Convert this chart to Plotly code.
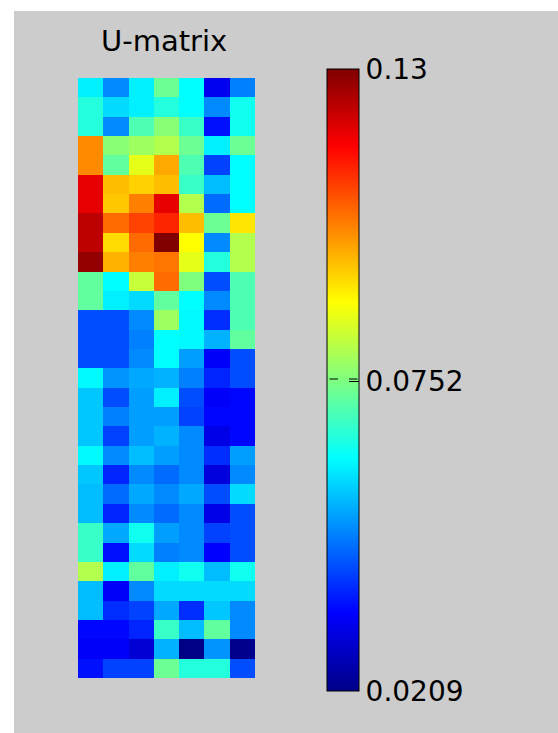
import plotly.graph_objects as go

# U-matrix distances, rows listed top to bottom, 7 columns each
rows = [
    [0.0602, 0.0493, 0.0602, 0.0733, 0.0618, 0.0329, 0.0482],
    [0.0656, 0.0580, 0.0602, 0.0656, 0.0618, 0.0493, 0.0634],
    [0.0656, 0.0493, 0.0700, 0.0765, 0.0678, 0.0362, 0.0634],
    [0.1016, 0.0765, 0.0787, 0.0809, 0.0733, 0.0602, 0.0733],
    [0.1016, 0.0722, 0.0864, 0.0984, 0.0700, 0.0416, 0.0618],
    [0.1191, 0.0962, 0.0940, 0.0962, 0.0678, 0.0547, 0.0618],
    [0.1191, 0.0951, 0.1027, 0.1191, 0.0809, 0.0460, 0.0618],
    [0.1235, 0.1049, 0.1093, 0.1125, 0.0962, 0.0733, 0.0918],
    [0.1235, 0.0929, 0.1049, 0.1300, 0.0891, 0.0493, 0.0809],
    [0.1278, 0.0973, 0.1027, 0.1038, 0.0864, 0.0656, 0.0809],
    [0.0722, 0.0618, 0.0831, 0.1049, 0.0755, 0.0427, 0.0700],
    [0.0722, 0.0602, 0.0580, 0.0722, 0.0618, 0.0493, 0.0700],
    [0.0427, 0.0427, 0.0493, 0.0787, 0.0613, 0.0394, 0.0700],
    [0.0427, 0.0427, 0.0482, 0.0618, 0.0613, 0.0536, 0.0722],
    [0.0427, 0.0427, 0.0493, 0.0618, 0.0514, 0.0340, 0.0427],
    [0.0613, 0.0504, 0.0525, 0.0536, 0.0482, 0.0384, 0.0427],
    [0.0558, 0.0427, 0.0514, 0.0602, 0.0427, 0.0340, 0.0351],
    [0.0558, 0.0482, 0.0514, 0.0514, 0.0416, 0.0351, 0.0351],
    [0.0558, 0.0416, 0.0514, 0.0536, 0.0493, 0.0318, 0.0351],
    [0.0613, 0.0493, 0.0547, 0.0514, 0.0493, 0.0394, 0.0514],
    [0.0558, 0.0384, 0.0493, 0.0460, 0.0493, 0.0307, 0.0493],
    [0.0547, 0.0460, 0.0525, 0.0493, 0.0525, 0.0427, 0.0580],
    [0.0547, 0.0384, 0.0493, 0.0460, 0.0493, 0.0318, 0.0427],
    [0.0678, 0.0525, 0.0634, 0.0514, 0.0493, 0.0416, 0.0427],
    [0.0678, 0.0362, 0.0580, 0.0482, 0.0493, 0.0345, 0.0427],
    [0.0809, 0.0602, 0.0722, 0.0602, 0.0634, 0.0547, 0.0634],
    [0.0547, 0.0340, 0.0493, 0.0580, 0.0580, 0.0580, 0.0580],
    [0.0547, 0.0394, 0.0416, 0.0525, 0.0394, 0.0558, 0.0493],
    [0.0351, 0.0351, 0.0384, 0.0678, 0.0547, 0.0722, 0.0493],
    [0.0340, 0.0340, 0.0296, 0.0536, 0.0209, 0.0504, 0.0215],
    [0.0362, 0.0416, 0.0416, 0.0733, 0.0656, 0.0656, 0.0427],
]
col_ids = list(range(1, 8))
row_ids = list(range(1, 32))
z_min = 0.0209
z_max = 0.13
tick_vals = [0.0209, 0.0752, 0.13]
tick_text = ["0.0209", "0.0752", "0.13"]
title_text = "U-matrix"

jet = [
    [0.0, "rgb(0,0,135)"],
    [0.125, "rgb(0,0,255)"],
    [0.375, "rgb(0,255,255)"],
    [0.625, "rgb(255,255,0)"],
    [0.875, "rgb(255,0,0)"],
    [1.0, "rgb(128,0,0)"],
]

GRAY = "#cccccc"
W, H = 558, 733
# plot area in screen pixels
PX0, PX1, PY0, PY1 = 78, 255, 78, 678
L, R = PX0, W - PX1
T, B = PY0, H - PY1
pw, ph = PX1 - PX0, PY1 - PY0


def px_x(x):
    return (x - PX0) / pw


def px_y(y):
    return (PY1 - y) / ph


fig = go.Figure()
fig.add_trace(go.Heatmap(
    z=rows, x=col_ids, y=row_ids,
    colorscale=jet, zmin=z_min, zmax=z_max,
    colorbar=dict(
        x=px_x(327), xanchor="left", xpad=0,
        y=px_y(380), yanchor="middle", ypad=0,
        len=622, lenmode="pixels",
        thickness=32, outlinewidth=1, outlinecolor="black",
        tickvals=tick_vals, ticktext=tick_text,
        ticks="inside", ticklen=10, tickwidth=1, tickcolor="black",
        tickfont=dict(family="DejaVu Sans", size=28, color="black"),
    ),
    hoverinfo="z",
))

tick_y = px_y(379)
fig.update_layout(
    width=W, height=H,
    margin=dict(l=L, r=R, t=T, b=B, pad=0),
    paper_bgcolor=GRAY,
    plot_bgcolor=GRAY,
    xaxis=dict(visible=False, range=[0.5, 7.5]),
    yaxis=dict(visible=False, range=[31.5, 0.5]),
    shapes=[
        # white frame strips on the left and top of the gray window
        dict(type="rect", xref="paper", yref="paper", layer="below",
             x0=px_x(-5), x1=px_x(14), y0=px_y(H + 5), y1=px_y(-5),
             fillcolor="white", line=dict(width=0)),
        dict(type="rect", xref="paper", yref="paper", layer="below",
             x0=px_x(-5), x1=px_x(W + 5), y0=px_y(11), y1=px_y(-5),
             fillcolor="white", line=dict(width=0)),
    ],
    annotations=[
        dict(text=title_text, xref="paper", yref="paper",
             x=px_x(164), y=px_y(41), xanchor="center", yanchor="middle",
             showarrow=False,
             font=dict(family="DejaVu Sans", size=29, color="black")),
        dict(text="", xref="paper", yref="paper",
             x=px_x(338), y=tick_y, ax=-10, ay=0,
             showarrow=True, arrowhead=0, arrowwidth=1, arrowcolor="black"),
        dict(text="", xref="paper", yref="paper",
             x=px_x(349), y=tick_y, ax=10, ay=0,
             showarrow=True, arrowhead=0, arrowwidth=1, arrowcolor="black"),
    ],
)

fig.write_html(
    "out.html",
    config={"displayModeBar": False},
    post_script=(
        "document.body.style.margin='0';"
        "document.body.style.overflow='hidden';"
        "document.body.style.background='" + GRAY + "';"
        "document.documentElement.style.overflow='hidden';"
        "document.documentElement.style.background='" + GRAY + "';"
    ),
)
